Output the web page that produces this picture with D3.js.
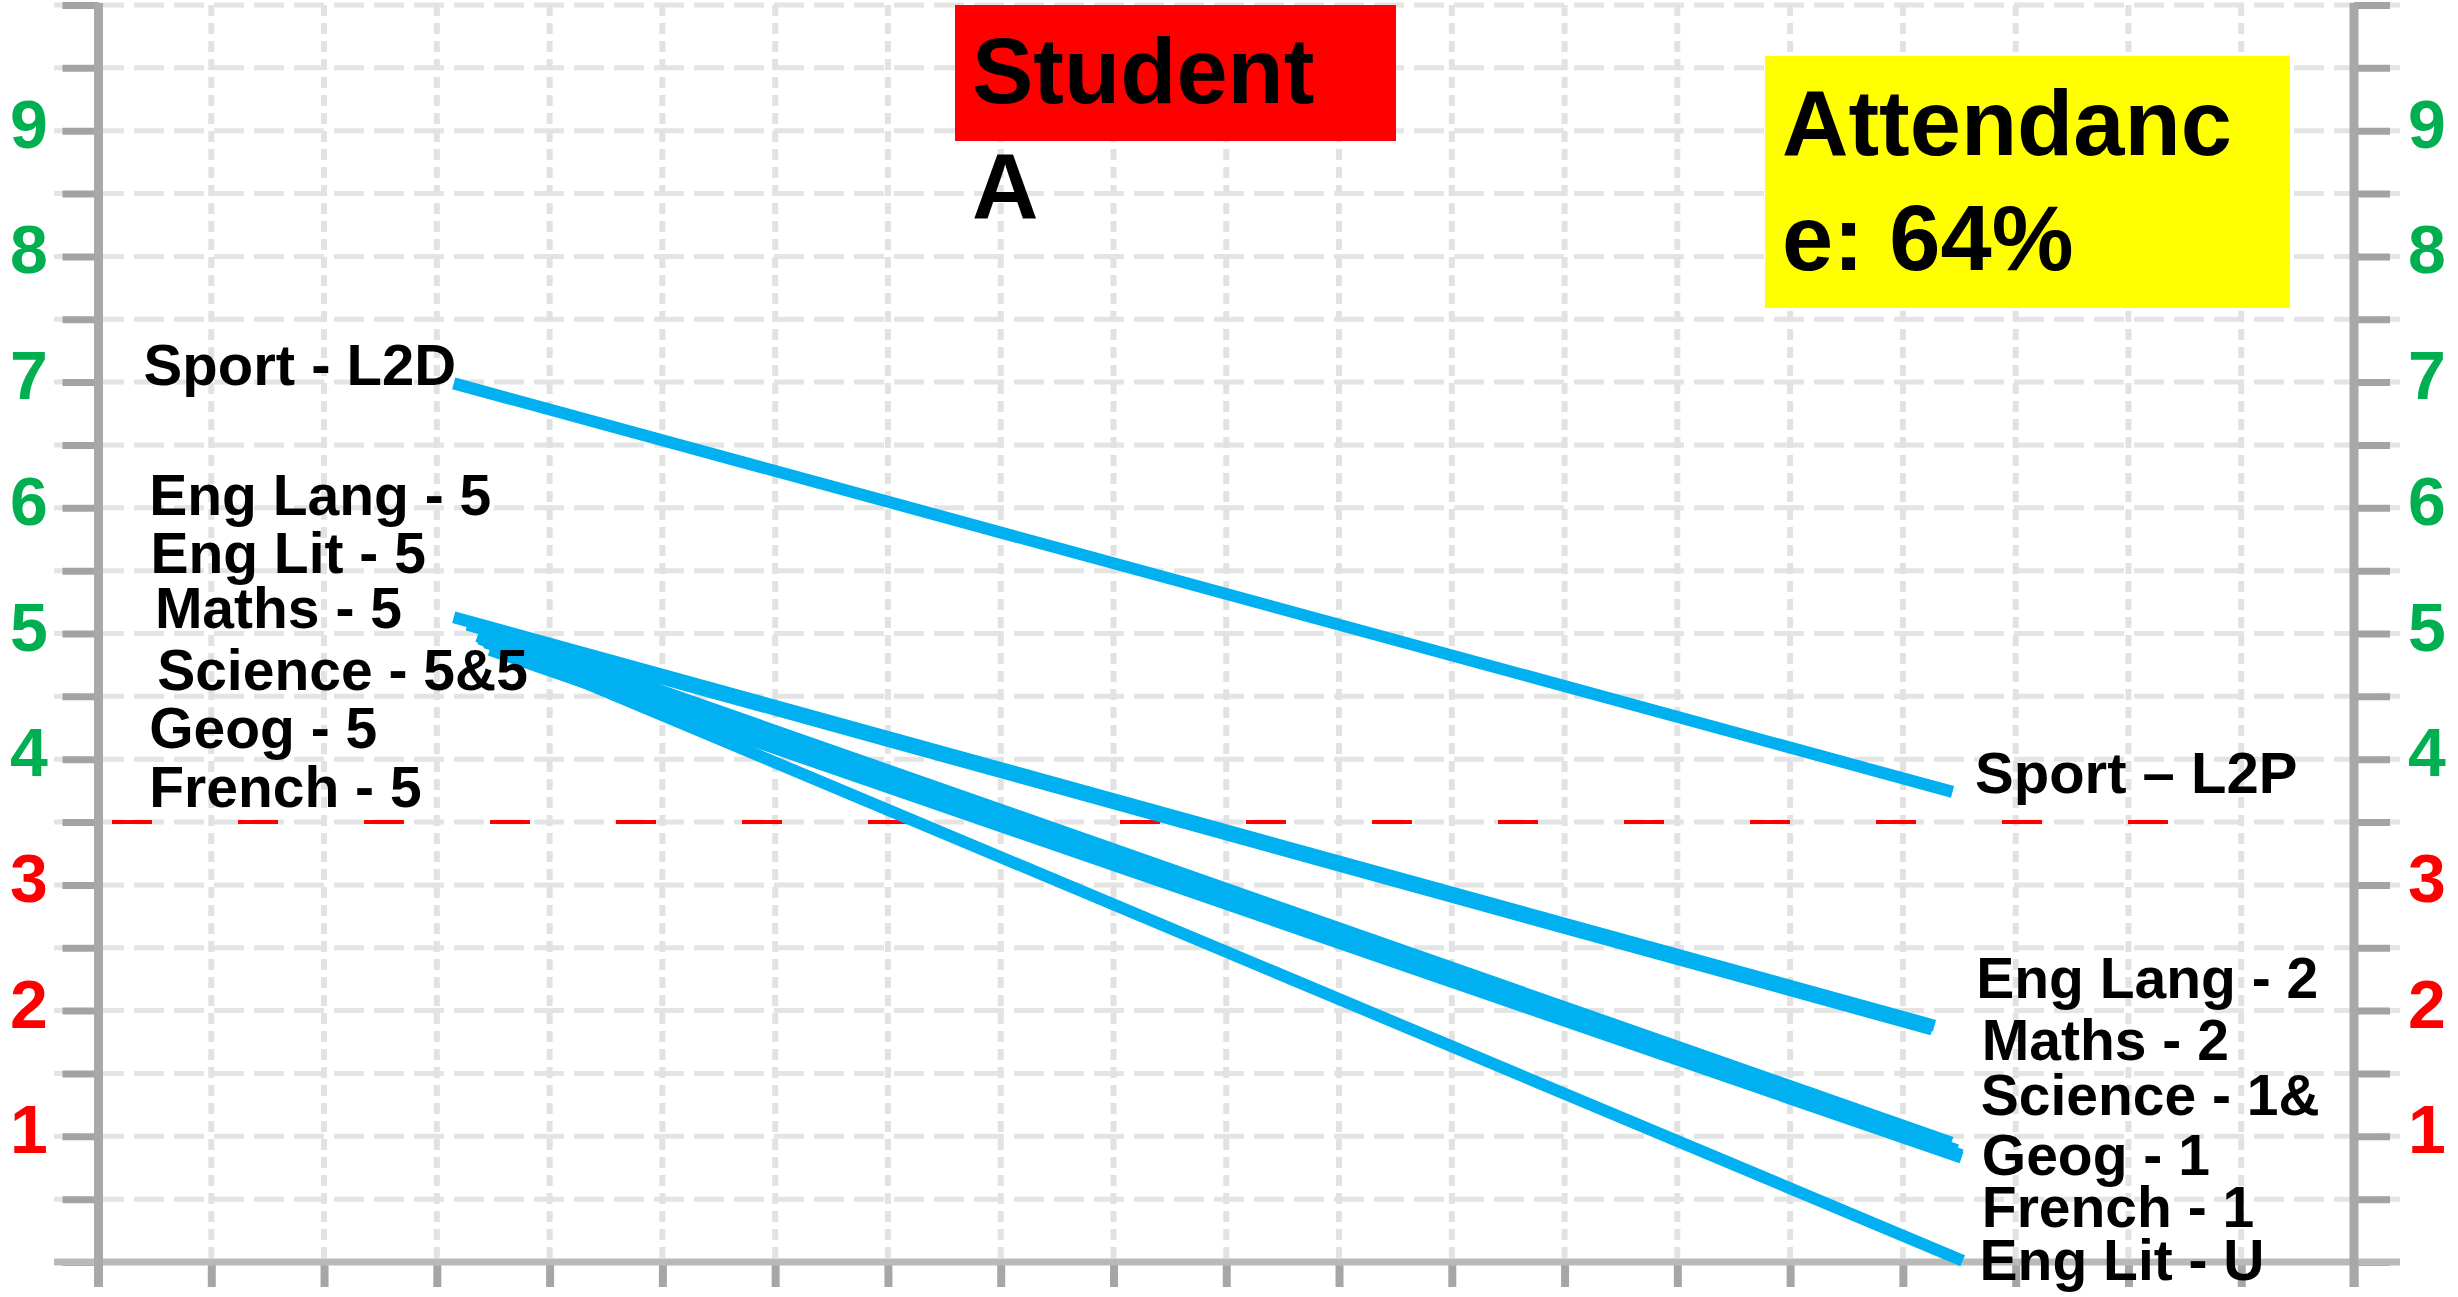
<!DOCTYPE html>
<html>
<head>
<meta charset="utf-8">
<script src="https://cdn.jsdelivr.net/npm/d3@7"></script>
<style>
  html, body { margin: 0; padding: 0; background: #ffffff; }
  svg { display: block; }
</style>
</head>
<body>
<div id="chart"></div>
<script>
// ---------------- DATA ----------------
const subjects    = ["Sport", "Eng Lang", "Maths", "Science", "Science", "Geog", "French", "Eng Lit"];
const startX      = [3.15, 3.15, 3.27, 3.31, 3.36, 3.43, 3.47, 3.38];
const startGrade  = [6.99, 5.13, 5.07, 5.07, 4.98, 4.93, 4.87, 4.96];
const endX        = [16.44, 16.28, 16.26, 16.43, 16.48, 16.52, 16.52, 16.53];
const endGrade    = [3.74, 1.88, 1.85, 0.95, 0.89, 0.85, 0.83, 0.01];

const leftLabels  = ["Sport - L2D", "Eng Lang - 5", "Eng Lit - 5", "Maths - 5", "Science - 5&5", "Geog - 5", "French - 5"];
const rightLabels = ["Sport \u2013 L2P", "Eng Lang - 2", "Maths - 2", "Science - 1&", "Geog - 1", "French - 1", "Eng Lit - U"];

const gradeTicks  = [1, 2, 3, 4, 5, 6, 7, 8, 9];
const passMark    = 3.5;
const titleLines  = ["Student", "A"];
const attendLines = ["Attendanc", "e: 64%"];

// ---------------- LAYOUT ----------------
const W = 2458, H = 1297;
const x = d3.scaleLinear().domain([0, 20]).range([98.5, 2354]);
const y = d3.scaleLinear().domain([0, 10]).range([1262, 5]);

// label anchor positions in axis units
const leftLabelPos  = [[0.40, 6.98], [0.45, 5.94], [0.46, 5.48], [0.50, 5.04], [0.52, 4.55], [0.45, 4.09], [0.45, 3.62]];
const rightLabelPos = [[16.64, 3.73], [16.65, 2.10], [16.70, 1.61], [16.69, 1.17], [16.70, 0.69], [16.70, 0.28], [16.68, -0.14]];

const svg = d3.select("#chart").append("svg")
  .attr("width", W).attr("height", H)
  .attr("viewBox", `0 0 ${W} ${H}`);

svg.append("rect").attr("width", W).attr("height", H).attr("fill", "#ffffff");

// ---------------- GRID ----------------
const halfSteps = d3.range(0.5, 10.01, 0.5);
const gridG = svg.append("g");
gridG.selectAll("line.h").data(halfSteps).join("line")
  .attr("class", "h")
  .attr("x1", 54).attr("x2", 2400)
  .attr("y1", d => y(d)).attr("y2", d => y(d))
  .attr("stroke", "#e4e4e4").attr("stroke-width", 5)
  .attr("stroke-dasharray", "30,10");

gridG.selectAll("line.v").data(d3.range(1, 20)).join("line")
  .attr("class", "v")
  .attr("x1", d => x(d)).attr("x2", d => x(d))
  .attr("y1", y(10)).attr("y2", y(0))
  .attr("stroke", "#e2e2e2").attr("stroke-width", 6)
  .attr("stroke-dasharray", "11,7");

// pass mark line
svg.append("line")
  .attr("x1", 112).attr("x2", 2168)
  .attr("y1", y(passMark)).attr("y2", y(passMark))
  .attr("stroke", "#ff0000").attr("stroke-width", 4)
  .attr("stroke-dasharray", "40,86");

// ---------------- AXES ----------------
const tickVals = d3.range(0, 10.01, 0.5);
const styleAxis = (g, color, width) => {
  g.selectAll(".domain").remove();
  g.selectAll(".tick line").attr("stroke", color).attr("stroke-width", width);
  g.selectAll(".tick text").remove();
};
svg.append("g").attr("transform", `translate(${x(0)},0)`)
  .call(d3.axisLeft(y).tickValues(tickVals).tickSize(36).tickFormat(""))
  .call(g => styleAxis(g, "#a3a3a3", 7));
svg.append("g").attr("transform", `translate(${x(20)},0)`)
  .call(d3.axisRight(y).tickValues(tickVals).tickSize(36).tickFormat(""))
  .call(g => styleAxis(g, "#a3a3a3", 7));
svg.append("g").attr("transform", `translate(0,${y(0)})`)
  .call(d3.axisBottom(x).tickValues(d3.range(0, 21)).tickSize(25).tickFormat(""))
  .call(g => styleAxis(g, "#a6a6a6", 8));

// axis lines
svg.append("line").attr("x1", 54).attr("x2", 2400).attr("y1", y(0)).attr("y2", y(0))
  .attr("stroke", "#b9b9b9").attr("stroke-width", 7);
svg.append("line").attr("x1", x(0)).attr("x2", x(0)).attr("y1", y(10) - 2).attr("y2", y(0) + 25)
  .attr("stroke", "#a8a8a8").attr("stroke-width", 9);
svg.append("line").attr("x1", x(20)).attr("x2", x(20)).attr("y1", y(10) - 2).attr("y2", y(0) + 25)
  .attr("stroke", "#a8a8a8").attr("stroke-width", 9);

// grade labels
const gradeColor = v => v >= 4 ? "#00b050" : "#ff0000";
[[29, "middle"], [2427, "middle"]].forEach(([lx, anchor]) => {
  svg.append("g").selectAll("text").data(gradeTicks).join("text")
    .attr("x", lx).attr("y", d => y(d) + 17)
    .attr("text-anchor", anchor)
    .attr("font-family", "'Liberation Sans', Arial, sans-serif")
    .attr("font-weight", "bold").attr("font-size", 68)
    .attr("fill", gradeColor)
    .text(d => d);
});

// ---------------- LINES ----------------
svg.append("g").selectAll("line").data(subjects.map((s, i) => i)).join("line")
  .attr("x1", i => x(startX[i])).attr("y1", i => y(startGrade[i]))
  .attr("x2", i => x(endX[i])).attr("y2", i => y(endGrade[i]))
  .attr("stroke", "#00b0f0").attr("stroke-width", 12)
  .attr("stroke-linecap", "butt");

// ---------------- LABELS ----------------
const labelFont = "'Liberation Sans', Arial, sans-serif";
svg.append("g").selectAll("text").data(leftLabels).join("text")
  .attr("x", (d, i) => x(leftLabelPos[i][0]))
  .attr("y", (d, i) => y(leftLabelPos[i][1]))
  .attr("font-family", labelFont).attr("font-weight", "bold")
  .attr("font-size", (d, i) => i === 0 ? 58 : 57)
  .attr("fill", "#000").text(d => d);
svg.append("g").selectAll("text").data(rightLabels).join("text")
  .attr("x", (d, i) => x(rightLabelPos[i][0]))
  .attr("y", (d, i) => y(rightLabelPos[i][1]))
  .attr("font-family", labelFont).attr("font-weight", "bold")
  .attr("font-size", (d, i) => i === 0 ? 58 : 57)
  .attr("fill", "#000").text(d => d);

// ---------------- TITLE BOXES ----------------
svg.append("rect").attr("x", 955).attr("y", 5).attr("width", 441).attr("height", 136).attr("fill", "#ff0000");
svg.append("g").selectAll("text").data(titleLines).join("text")
  .attr("x", 972).attr("y", (d, i) => 103 + i * 115)
  .attr("font-family", labelFont).attr("font-weight", "bold").attr("font-size", 92)
  .attr("fill", "#000").text(d => d);

svg.append("rect").attr("x", 1765).attr("y", 56).attr("width", 525).attr("height", 252).attr("fill", "#ffff00");
svg.append("g").selectAll("text").data(attendLines).join("text")
  .attr("x", 1782).attr("y", (d, i) => 155 + i * 115)
  .attr("font-family", labelFont).attr("font-weight", "bold").attr("font-size", 92)
  .attr("fill", "#000").text(d => d);
</script>
</body>
</html>
